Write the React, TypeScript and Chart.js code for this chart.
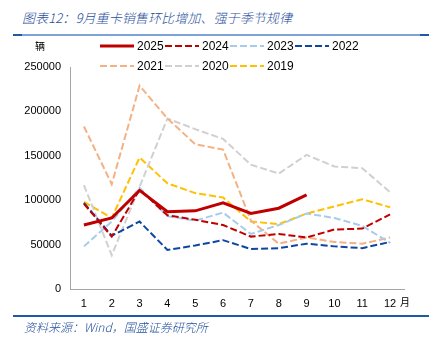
import React, { useEffect, useRef } from "react";
import { Chart, registerables } from "chart.js";

Chart.register(...registerables);

const months = ["1", "2", "3", "4", "5", "6", "7", "8", "9", "10", "11", "12"];
const yTicks = [0, 50000, 100000, 150000, 200000, 250000];

const s2025 = [72000, 80000, 111000, 87000, 88000, 97000, 85000, 91000, 106000];
const s2024 = [96000, 59000, 112000, 83000, 78000, 72000, 59000, 62000, 58000, 67000, 68000, 84000];
const s2023 = [48000, 76000, 114000, 82000, 77000, 86000, 62000, 72000, 85000, 80000, 71000, 52000];
const s2022 = [97000, 60000, 76000, 44000, 49000, 55000, 45000, 46000, 51000, 48000, 46000, 53000];
const s2021 = [183000, 118000, 229000, 192000, 163000, 157000, 77000, 51000, 58000, 53000, 51000, 58000];
const s2020 = [117000, 38000, 115000, 192000, 180000, 169000, 140000, 130000, 151000, 138000, 136000, 109000];
const s2019 = [98000, 80000, 148000, 119000, 108000, 103000, 76000, 73000, 85000, 93000, 101000, 92000];

const seriesNames = ["2025", "2024", "2023", "2022", "2021", "2020", "2019"];
const seriesData = [s2025, s2024, s2023, s2022, s2021, s2020, s2019];
const seriesColors = ["#C00000", "#C00000", "#A9CBEA", "#0D47A1", "#F4B183", "#D0D0D0", "#FFC000"];
const seriesDash: number[][] = [[], [7, 3], [7, 3], [7, 3], [7, 3], [7, 3], [7, 3]];
const seriesWidth = [3, 2, 2, 2, 2, 2, 2];

const tickFont = "'Liberation Sans', Arial, sans-serif";
const cjkFont = "'Noto Sans CJK SC', sans-serif";

export default function App() {
  const ref = useRef<HTMLCanvasElement | null>(null);

  useEffect(() => {
    if (!ref.current) return;
    const datasets = seriesNames.map((n, i) => ({
      label: n,
      data: seriesData[i],
      borderColor: seriesColors[i],
      backgroundColor: seriesColors[i],
      borderDash: seriesDash[i],
      borderWidth: seriesWidth[i],
      pointRadius: 0,
      tension: 0,
      fill: false,
      order: i,
    }));
    const chart = new Chart(ref.current, {
      type: "line",
      data: { labels: months, datasets },
      options: {
        animation: false,
        responsive: false,
        maintainAspectRatio: false,
        layout: { padding: { left: 8, right: 35, top: 67, bottom: 47 } },
        plugins: { legend: { display: false }, tooltip: { enabled: false } },
        scales: {
          x: {
            offset: true,
            grid: { display: false, drawTicks: false },
            border: { display: true, color: "#A6A6A6", width: 1 },
            ticks: { color: "#000", font: { family: tickFont, size: 11 }, padding: 8, maxRotation: 0 },
            afterFit: (s: any) => { s.height = 20; },
          },
          y: {
            min: 0,
            max: 250000,
            afterBuildTicks: (s: any) => { s.ticks = yTicks.map((v) => ({ value: v })); },
            grid: { display: false, drawTicks: true, tickLength: 3, color: "#A6A6A6" },
            border: { display: true, color: "#A6A6A6", width: 1 },
            ticks: { color: "#000", font: { family: tickFont, size: 11 }, padding: 6, callback: (v: any) => String(v) },
            afterFit: (s: any) => { s.width = 62; },
          },
        },
      },
    });
    return () => chart.destroy();
  }, []);

  const legendRows = [[0, 1, 2, 3], [4, 5, 6]];
  const colX = [100, 165, 230, 295];
  const rowY = [46, 66];

  return (
    <div style={{ position: "fixed", left: 0, top: 0, width: 439, height: 356, background: "#fff", overflow: "hidden" }}>
      <div style={{ position: "absolute", left: 22, top: 8, fontFamily: cjkFont, fontStyle: "italic", fontWeight: 300, fontSize: 13, color: "#1F4E9C", whiteSpace: "nowrap", lineHeight: "20px", letterSpacing: 0.1 }}>
        图表12：9月重卡销售环比增加、强于季节规律
      </div>
      <div style={{ position: "absolute", left: 13, top: 34, width: 416, height: 2, background: "#7FA3D6" }} />
      <div style={{ position: "absolute", left: 13, top: 34, width: 9, height: 2, background: "#1F5AA8" }} />
      <div style={{ position: "absolute", left: 420, top: 34, width: 9, height: 2, background: "#1F5AA8" }} />
      <canvas ref={ref} width={439} height={356} style={{ position: "absolute", left: 0, top: 0, width: 439, height: 356 }} />
      <div style={{ position: "absolute", left: 35, top: 39, fontFamily: cjkFont, fontSize: 10, color: "#000", lineHeight: "14px" }}>辆</div>
      <div style={{ position: "absolute", left: 400, top: 295, fontFamily: cjkFont, fontSize: 10, color: "#000", lineHeight: "14px" }}>月</div>
      {legendRows.map((row, ri) =>
        row.map((si, ci) => (
          <div key={si} style={{ position: "absolute", left: colX[ci], top: rowY[ri] - 8, height: 16, display: "flex", alignItems: "center", whiteSpace: "nowrap" }}>
            <svg width={34} height={6} style={{ display: "block" }}>
              <line x1={0} y1={3} x2={34} y2={3} stroke={seriesColors[si]} strokeWidth={si === 0 ? 3 : 2} strokeDasharray={si === 0 ? undefined : "7 3"} />
            </svg>
            <span style={{ marginLeft: 3, fontFamily: tickFont, fontSize: 12, color: "#000" }}>{seriesNames[si]}</span>
          </div>
        ))
      )}
      <div style={{ position: "absolute", left: 13, top: 315, width: 416, height: 2, background: "#1F5AA8" }} />
      <div style={{ position: "absolute", left: 24, top: 318, fontFamily: cjkFont, fontStyle: "italic", fontWeight: 300, fontSize: 12, color: "#1F4E9C", whiteSpace: "nowrap", lineHeight: "18px" }}>
        资料来源：Wind，国盛证券研究所
      </div>
    </div>
  );
}
